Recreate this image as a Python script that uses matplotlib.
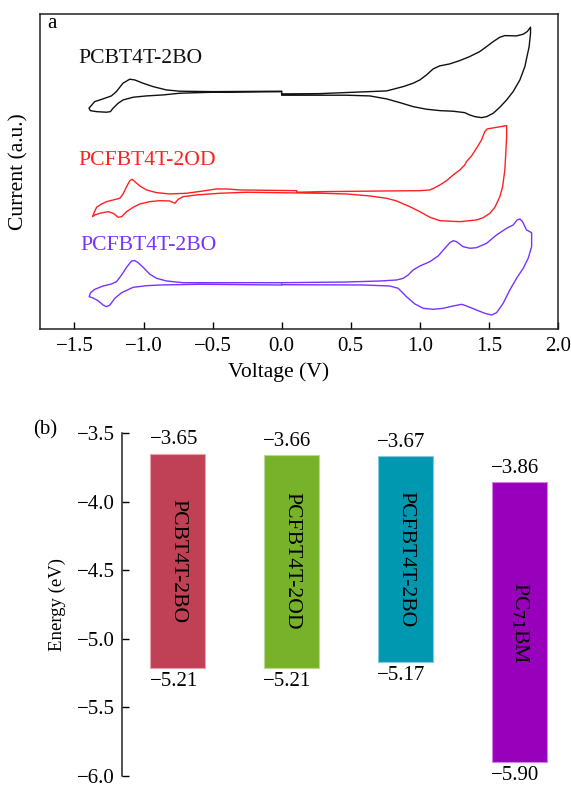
import matplotlib
matplotlib.use("Agg")
import matplotlib.pyplot as plt

plt.rcParams['font.family'] = ['Liberation Serif', 'DejaVu Serif']
plt.rcParams['axes.unicode_minus'] = True

# ---------------- Panel (a): cyclic voltammograms ----------------
v_pcbt_2bo = [0.0, 0.277, 0.760, 0.880, 0.952, 1.001, 1.049, 1.097, 1.144, 1.217, 1.289, 1.361, 1.434, 1.484,
              1.532, 1.580, 1.616, 1.701, 1.749, 1.778, 1.802,
              1.802, 1.792, 1.761, 1.725, 1.676, 1.629, 1.580, 1.532, 1.484, 1.447, 1.399, 1.361, 1.325,
              1.242, 1.146, 1.049, 0.952, 0.856, 0.760, 0.638, 0.470, 0.277, 0.0,
              0.0, -0.497, -0.737, -0.858, -0.979, -1.075, -1.148, -1.184, -1.221, -1.240, -1.269, -1.341,
              -1.385, -1.395,
              -1.354, -1.294, -1.233, -1.197, -1.149, -1.100, -1.064, -1.004, -0.931, -0.835, -0.738,
              -0.500, 0.0]
i_pcbt_2bo = [235.0, 235.3, 238.0, 242.3, 245.7, 249.0, 254.0, 260.0, 263.0, 265.0, 268.3, 272.3, 277.3, 282.3,
              287.3, 291.7, 293.3, 293.0, 294.7, 297.3, 301.7,
              295.7, 282.3, 262.3, 249.0, 237.3, 229.0, 221.7, 215.7, 212.3, 211.3, 212.3, 214.0, 216.3,
              217.7, 218.3, 219.7, 222.3, 226.3, 230.0, 233.0, 233.7, 233.7, 233.7,
              237.2, 236.7, 235.7, 234.0, 233.0, 231.7, 229.0, 225.7, 220.7, 217.3, 216.7, 217.3,
              218.3, 220.7,
              227.3, 230.0, 233.0, 237.3, 245.7, 249.7, 249.0, 245.7, 242.3, 239.0, 237.7,
              237.3, 237.7]

v_pcfbt_2od = [0.110, 0.277, 0.760, 1.001, 1.073, 1.109, 1.146, 1.194, 1.242, 1.290, 1.326, 1.338, 1.375,
               1.411, 1.447, 1.471, 1.488, 1.629,
               1.629, 1.623, 1.616, 1.600, 1.580, 1.544, 1.508, 1.459, 1.411, 1.290, 1.146, 1.073, 1.001,
               0.928, 0.832, 0.760, 0.638, 0.470, 0.277, 0.110,
               -0.254, -0.448, -0.616, -0.713, -0.749, -0.773, -0.810, -0.882, -0.955, -1.027, -1.075,
               -1.123, -1.159, -1.184, -1.220, -1.256, -1.316, -1.353, -1.369,
               -1.360, -1.340, -1.304, -1.268, -1.220, -1.172, -1.148, -1.123, -1.099, -1.083, -1.063,
               -1.027, -0.978, -0.906, -0.810, -0.689, -0.568, -0.471, -0.399, -0.303, 0.108, 0.110]
i_pcfbt_2od = [136.7, 137.3, 138.0, 138.3, 139.0, 141.3, 144.0, 148.3, 154.0, 159.0, 164.0, 167.3, 173.0,
               180.7, 189.0, 197.3, 200.0, 203.3,
               192.3, 175.7, 159.0, 142.3, 132.3, 121.7, 115.7, 111.3, 109.0, 107.3, 108.3, 111.7, 117.3,
               122.3, 128.0, 130.7, 133.0, 135.0, 135.7, 136.0,
               136.7, 135.7, 134.0, 132.3, 129.7, 125.7, 128.0, 128.3, 127.3, 125.0, 121.7,
               117.3, 112.3, 111.7, 115.7, 117.3, 115.7, 114.0, 112.3,
               115.7, 121.7, 125.0, 127.3, 129.0, 130.7, 135.0, 142.3, 148.3, 149.7, 147.3,
               143.0, 139.0, 136.3, 135.0, 135.7, 138.0, 140.0, 140.0, 139.0, 138.3, 136.7]

v_pcfbt_2bo = [0.0, 0.470, 0.711, 0.832, 0.880, 0.916, 0.952, 1.001, 1.073, 1.133, 1.182, 1.218, 1.242, 1.266,
               1.314, 1.363, 1.411, 1.484, 1.556, 1.629, 1.676, 1.705, 1.725, 1.744, 1.773, 1.810,
               1.810, 1.785, 1.749, 1.701, 1.652, 1.604, 1.556, 1.520, 1.471, 1.411, 1.339, 1.303, 1.242,
               1.169, 1.097, 1.025, 0.965, 0.904, 0.844, 0.783, 0.590, 0.0,
               0.0, -0.592, -0.882, -0.978, -1.075, -1.159, -1.208, -1.244, -1.268, -1.293, -1.329, -1.365,
               -1.394,
               -1.384, -1.353, -1.293, -1.232, -1.196, -1.159, -1.123, -1.087, -1.063, -1.039, -1.003,
               -0.954, -0.906, -0.833, -0.713, 0.0]
i_pcfbt_2bo = [46.3, 47.0, 48.0, 49.0, 50.7, 54.0, 59.0, 63.0, 67.3, 73.0, 80.7, 86.3, 88.3, 87.3,
               82.3, 80.7, 81.3, 85.7, 94.0, 100.7, 104.0, 109.0, 110.0, 107.3, 99.0, 96.3,
               82.3, 70.7, 60.7, 50.7, 39.0, 25.7, 16.3, 14.0, 15.7, 19.0, 23.0, 24.7, 23.0,
               20.7, 19.7, 20.7, 25.0, 32.3, 40.7, 43.0, 44.0, 44.3,
               44.0, 44.7, 44.0, 43.3, 41.7, 36.3, 30.7, 24.0, 22.3, 24.0, 28.3, 31.0,
               32.3,
               36.3, 39.7, 43.0, 45.0, 47.3, 54.0, 61.7, 68.0, 68.3, 66.3, 61.7,
               54.7, 50.7, 48.0, 46.3, 46.3]

cv_names = ['PCBT4T-2BO', 'PCFBT4T-2OD', 'PCFBT4T-2BO']
cv_colors = ['#111111', '#FF2020', '#7733FF']
x_ticks = [-1.5, -1.0, -0.5, 0.0, 0.5, 1.0, 1.5, 2.0]

# ---------------- Panel (b): energy levels ----------------
materials = ['PCBT4T-2BO', 'PCFBT4T-2OD', 'PCFBT4T-2BO', 'PC$_{71}$BM']
lumo = [-3.65, -3.66, -3.67, -3.86]
homo = [-5.21, -5.21, -5.17, -5.90]
bar_colors = ['#C04155', '#78B22A', '#0098B0', '#9900BB']
bar_edges = ['#E8A0AC', '#B8DA90', '#80CCD8', '#D080E8']
y_ticks = [-3.5, -4.0, -4.5, -5.0, -5.5, -6.0]

FS = 15
FS_LAB = 15.6

fig = plt.figure(figsize=(5.71, 7.89), dpi=100)

ax1 = fig.add_axes([0.070, 0.583, 0.907, 0.3994])
for v, i, c in zip([v_pcbt_2bo, v_pcfbt_2od, v_pcfbt_2bo],
                   [i_pcbt_2bo, i_pcfbt_2od, i_pcfbt_2bo], cv_colors):
    ax1.plot(v, i, color=c, lw=1.0, solid_joinstyle='round')
ax1.set_xlim(-1.75, 2.0)
ax1.set_ylim(0, 315)
ax1.set_xticks(x_ticks)
ax1.set_xticklabels(['%.1f' % t if t >= 0 else '\u2212%.1f' % abs(t) for t in x_ticks])
ax1.set_yticks([])
ax1.tick_params(axis='x', direction='in', length=5, width=1.0, labelsize=FS, pad=6)
for s in ax1.spines.values():
    s.set_linewidth(1.1)
    s.set_color('#222222')
ax1.set_xlabel('Voltage (V)', fontsize=FS_LAB, labelpad=2)
ax1.xaxis.set_label_coords(0.46, -0.105)
ax1.set_ylabel('Current (a.u.)', fontsize=FS_LAB, labelpad=8)
label_pos = [(-1.47, 270), (-1.47, 168), (-1.455, 83)]
for (lx, ly), name, c in zip(label_pos, cv_names, cv_colors):
    ax1.text(lx, ly, name, color=c, fontsize=FS_LAB, va='center', ha='left')
ax1.text(-1.70, 305, 'a', fontsize=FS, va='center', ha='left')

ax2 = fig.add_axes([0.2137, 0.0165, 0.776, 0.4347])
xs = list(range(len(materials)))
heights = [l - h for l, h in zip(lumo, homo)]
ax2.bar(xs, heights, bottom=homo, width=0.48, color=bar_colors, edgecolor=bar_edges, linewidth=0.8)
for x, l, h, name in zip(xs, lumo, homo, materials):
    ax2.annotate('\u2212%.2f' % abs(l), (x, l), xytext=(-3, 3), textcoords='offset points',
                 ha='center', va='bottom', fontsize=FS)
    ax2.annotate('\u2212%.2f' % abs(h), (x, h), xytext=(-3, -3), textcoords='offset points',
                 ha='center', va='top', fontsize=FS)
    ax2.text(x, (l + h) / 2, name, rotation=-90, ha='center', va='center', fontsize=FS_LAB)
ax2.set_xlim(-0.49, 3.4)
ax2.set_ylim(-6.0, -3.5)
ax2.set_yticks(y_ticks)
ax2.set_yticklabels(['\u2212%.1f' % abs(t) for t in y_ticks])
ax2.set_xticks([])
for k in ['top', 'right', 'bottom']:
    ax2.spines[k].set_visible(False)
ax2.spines['left'].set_linewidth(1.1)
ax2.spines['left'].set_color('#222222')
ax2.tick_params(axis='y', direction='in', length=5, width=1.0, labelsize=FS, pad=5)
ax2.set_ylabel('Energy (eV)', fontsize=13.5, labelpad=8)
fig.text(45 / 571, 1 - 430 / 789, '(b)', fontsize=FS, ha='center', va='center')

fig.savefig('out.png', dpi=100)
